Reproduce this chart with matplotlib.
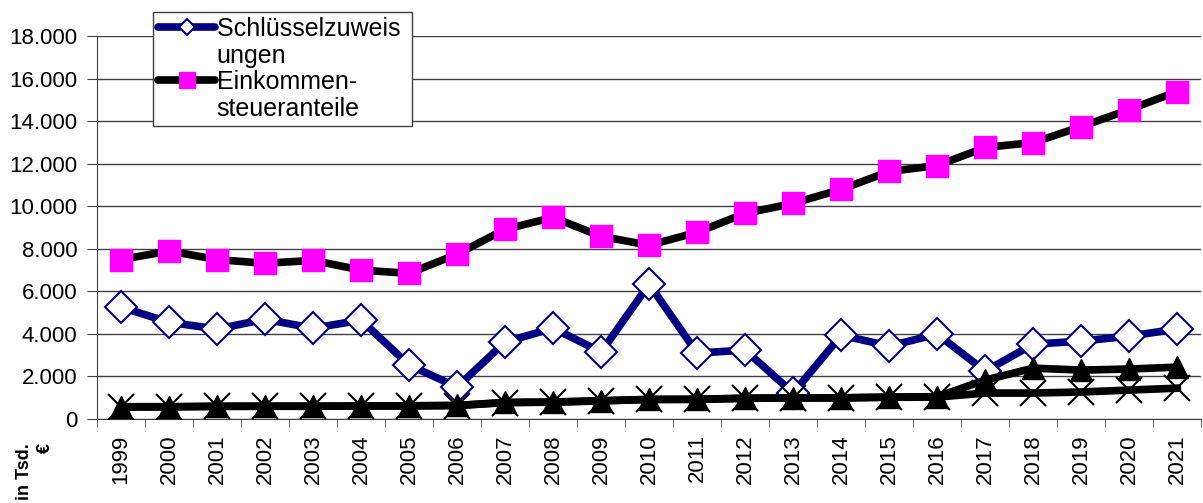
import matplotlib
matplotlib.use("Agg")
import matplotlib.pyplot as plt
from matplotlib.lines import Line2D
from matplotlib.ticker import FuncFormatter, FixedLocator, MultipleLocator

years = [str(y) for y in range(1999, 2022)]
schluessel = [5260, 4550, 4230, 4690, 4270, 4650, 2540, 1500, 3620, 4270, 3150, 6340,
              3100, 3240, 1220, 3940, 3430, 3990, 2250, 3520, 3660, 3900, 4230]
einkommen = [7500, 7900, 7500, 7320, 7460, 7000, 6850, 7750, 8920, 9480, 8590, 8170,
             8780, 9670, 10140, 10800, 11640, 11920, 12770, 13000, 13750, 14550, 15400]
dreieck = [580, 580, 600, 600, 600, 610, 620, 640, 780, 800, 860, 920,
           930, 980, 990, 1000, 1030, 1050, 1830, 2390, 2300, 2350, 2440]
kreuz = [560, 570, 590, 600, 600, 610, 620, 630, 770, 790, 850, 920,
         920, 970, 990, 990, 1020, 1030, 1220, 1220, 1270, 1360, 1450]
legend_lines = ["Schlüsselzuweis ", "ungen", "Einkommen-", "steueranteile"]

plt.rcParams['font.family'] = ['Liberation Sans', 'DejaVu Sans']

fig = plt.figure(figsize=(12.03, 5.03), dpi=100)
ax = fig.add_axes([0.0806, 0.167, 0.918, 0.761])

x = list(range(len(years)))

l1, = ax.plot(x, schluessel, color='#000080', lw=5.5, marker='D', ms=16,
              mfc='white', mec='#000080', mew=1.5, zorder=3, solid_joinstyle='round')
l2, = ax.plot(x, einkommen, color='black', lw=5.5, marker='s', ms=16,
              mfc='#FF00FF', mec='#FF00FF', zorder=3, solid_joinstyle='round')
l4, = ax.plot(x, kreuz, color='black', lw=5.5, marker='x', ms=19, mew=1.5,
              zorder=4, solid_joinstyle='round')
l3, = ax.plot(x, dreieck, color='black', lw=5.5, marker='^', ms=16,
              mfc='black', mec='black', zorder=5, solid_joinstyle='round')

ax.set_xlim(-0.5, len(years) - 0.5)
ax.set_ylim(0, 18000)
ax.yaxis.set_major_locator(MultipleLocator(2000))
ax.yaxis.set_major_formatter(FuncFormatter(lambda v, p: f"{int(v):,}".replace(",", ".")))
ax.grid(axis='y', color='#404040', lw=1)
ax.set_axisbelow(True)

ax.set_xticks(x)
ax.set_xticklabels(years, rotation=90, fontsize=16)
ax.tick_params(axis='x', length=0, pad=11)
ax.xaxis.set_minor_locator(FixedLocator([i - 0.5 for i in range(len(years) + 1)]))
ax.tick_params(axis='x', which='minor', length=6, color='#404040', direction='out')
ax.tick_params(axis='y', labelsize=16, length=7, pad=7, color='#404040')

for s in ['top', 'right']:
    ax.spines[s].set_visible(False)
ax.spines['left'].set_color('#404040')
ax.spines['bottom'].set_color('#404040')

fig.text(0.020, 0.119, "in Tsd.", rotation=90, fontsize=13, fontweight='bold',
         ha='center', va='top')
fig.text(0.0375, 0.119, "€", rotation=90, fontsize=13, fontweight='bold',
         ha='center', va='top')

h1 = Line2D([], [], color='#000080', lw=5.5, marker='D', ms=8, mfc='white',
            mec='#000080', mew=1.5, solid_capstyle='round')
h2 = Line2D([], [], color='black', lw=5.5, marker='s', ms=11, mfc='#FF00FF',
            mec='#FF00FF', solid_capstyle='round')
blank = Line2D([], [], color='none')
leg = fig.legend([h1, blank, h2, blank], legend_lines, loc='upper left',
                 bbox_to_anchor=(0.127, 0.976), fontsize=18, frameon=True,
                 fancybox=False, edgecolor='#404040', framealpha=1,
                 handlelength=2.3, handletextpad=0.05, borderpad=0.2,
                 labelspacing=0.1, borderaxespad=0)
leg.get_frame().set_linewidth(1)

fig.savefig("out.png", dpi=100)
